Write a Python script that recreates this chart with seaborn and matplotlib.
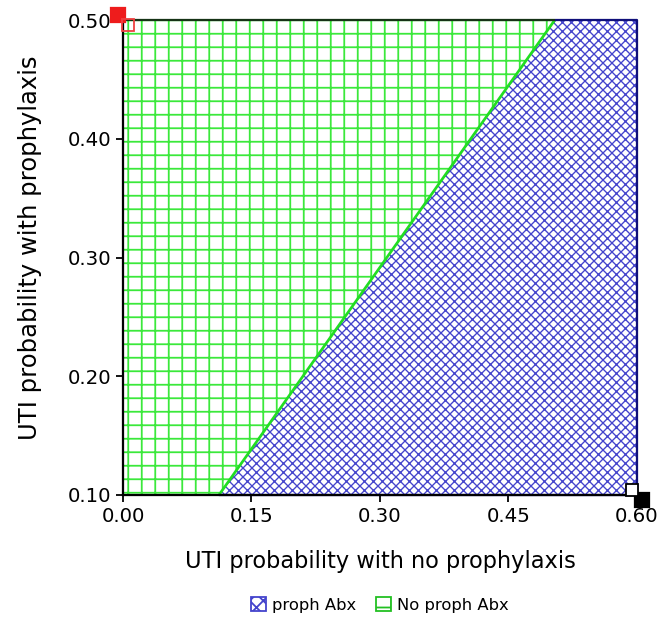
import numpy as np
import matplotlib
matplotlib.use("Agg")
import matplotlib.pyplot as plt
import matplotlib.transforms as mtransforms
from matplotlib.patches import Patch
import seaborn as sns

# Data (two-way sensitivity analysis)
x_range = [0.0, 0.60]            # UTI probability with no prophylaxis
y_range = [0.10, 0.50]           # UTI probability with prophylaxis
boundary_y = [0.10, 0.50]        # threshold line between strategies
boundary_x = [0.112, 0.504]
x_ticks = [0.00, 0.15, 0.30, 0.45, 0.60]
y_ticks = [0.10, 0.20, 0.30, 0.40, 0.50]
corner_x = [0.0, 0.60]           # corner markers
corner_y = [0.50, 0.10]
strategies = ["proph Abx", "No proph Abx"]

BLUE = "#4444cc"
NAVY = "#10107a"
GREEN = "#3be83b"
LINE_GREEN = "#22dd22"
BLUE_HATCH = "xxxxxx"
GREEN_HATCH = "++"

sns.set_style("white")
plt.rcParams["font.family"] = ["DejaVu Sans"]
plt.rcParams["hatch.linewidth"] = 0.8
plt.rcParams["text.color"] = "black"
plt.rcParams["axes.labelcolor"] = "black"

DPI = 162
fig = plt.figure(figsize=(666 / DPI, 619 / DPI), dpi=DPI)
ax = fig.add_axes([123 / 666, 1 - 495 / 619, 514 / 666, 475 / 619])

# regions
ax.fill_betweenx(boundary_y, x_range[0], boundary_x, facecolor="white",
                 edgecolor=GREEN, hatch=GREEN_HATCH, linewidth=0, zorder=1)
with plt.rc_context({"hatch.linewidth": 0.6}):
    ax.fill_betweenx(boundary_y, boundary_x, x_range[1], facecolor="white",
                     edgecolor=BLUE, hatch=BLUE_HATCH, linewidth=0, zorder=1)

# threshold line
sns.lineplot(x=boundary_x, y=boundary_y, color=LINE_GREEN, lw=1.2, ax=ax, zorder=3)

# region borders
ax.plot([x_range[0], boundary_x[-1]], [y_range[1], y_range[1]], color="#163316",
        lw=1.0, clip_on=False, zorder=4, solid_capstyle="butt")
ax.plot([boundary_x[-1], x_range[1]], [y_range[1], y_range[1]], color=NAVY,
        lw=1.0, clip_on=False, zorder=4, solid_capstyle="butt")
ax.plot([x_range[1], x_range[1]], y_range, color=NAVY, lw=1.0, clip_on=False, zorder=4)
ax.plot([boundary_x[0], x_range[1]], [y_range[0], y_range[0]], color=NAVY,
        lw=1.0, clip_on=False, zorder=4)

# corner markers
off_a = mtransforms.offset_copy(ax.transData, fig=fig, x=-2.2, y=2.2, units="points")
off_b = mtransforms.offset_copy(ax.transData, fig=fig, x=2.2, y=-2.2, units="points")
ax.plot(corner_x[0], corner_y[0], marker="s", ms=6.5, mfc="#ee1c1c", mec="#ee1c1c",
        transform=off_a, clip_on=False, zorder=6)
ax.plot(corner_x[0], corner_y[0], marker="s", ms=5.0, mfc="none", mec="#f04040",
        mew=0.8, transform=off_b, clip_on=False, zorder=6)
ax.plot(corner_x[1], corner_y[1], marker="s", ms=6.5, mfc="black", mec="black",
        transform=off_b, clip_on=False, zorder=6)
ax.plot(corner_x[1], corner_y[1], marker="s", ms=5.0, mfc="white", mec="black",
        mew=0.8, transform=off_a, clip_on=False, zorder=7)

ax.set_xlim(x_range)
ax.set_ylim(y_range)
ax.set_xticks(x_ticks)
ax.set_xticklabels([f"{v:.2f}" for v in x_ticks])
ax.set_yticks(y_ticks)
ax.set_yticklabels([f"{v:.2f}" for v in y_ticks])
ax.tick_params(axis="both", direction="out", length=3.2, width=0.8, colors="black",
               labelsize=8.8, pad=2, bottom=True, left=True)

for side in ["top", "right"]:
    ax.spines[side].set_visible(False)
for side in ["left", "bottom"]:
    ax.spines[side].set_color("black")
    ax.spines[side].set_linewidth(1.0)
    ax.spines[side].set_zorder(5)

ax.set_xlabel("UTI probability with no prophylaxis", fontsize=10, labelpad=11)
ax.set_ylabel("UTI probability with prophylaxis", fontsize=10.8)
ax.yaxis.set_label_coords(-0.158, 0.52)

handles = [
    Patch(facecolor="white", edgecolor=BLUE, hatch="xxxx", label=strategies[0], lw=0.8),
    Patch(facecolor="white", edgecolor="#22c022", hatch="+", label=strategies[1], lw=0.8),
]
leg = fig.legend(handles=handles, loc="center", bbox_to_anchor=(380 / 666, 1 - 605 / 619),
                 ncol=2, frameon=False, fontsize=7.3, handlelength=0.9, handleheight=0.9,
                 handletextpad=0.4, columnspacing=1.2)

fig.savefig("out.png", dpi=DPI)
